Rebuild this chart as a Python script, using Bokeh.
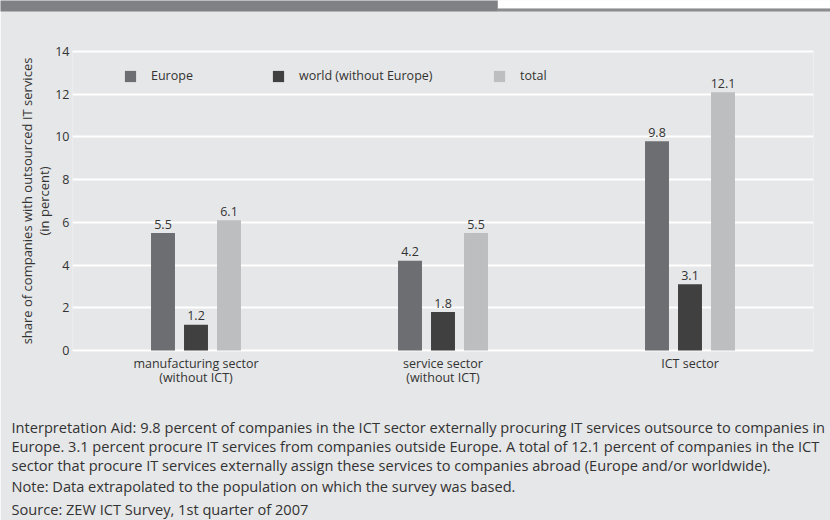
from bokeh.plotting import figure
from bokeh.models import (Range1d, FactorRange, Legend, LegendItem, ColumnDataSource,
                          FixedTicker, Label)
from bokeh.transform import dodge
from bokeh.embed import file_html
from bokeh.resources import INLINE
from bokeh.core.properties import value

# ---------------- data ----------------
sectors = ["manufacturing sector\n(without ICT)", "service sector\n(without ICT)", "ICT sector"]
series = ["Europe", "world (without Europe)", "total"]
europe = [5.5, 4.2, 9.8]
world = [1.2, 1.8, 3.1]
total = [6.1, 5.5, 12.1]
y_ticks = [0, 2, 4, 6, 8, 10, 12, 14]
y_label = "share of companies with outsourced IT services\n(in percent)"
notes = [
    "Interpretation Aid: 9.8 percent of companies in the ICT sector externally procuring IT services outsource to companies in",
    "Europe. 3.1 percent procure IT services from companies outside Europe. A total of 12.1 percent of companies in the ICT",
    "sector that procure IT services externally assign these services to companies abroad (Europe and/or worldwide).",
    "Note: Data extrapolated to the population on which the survey was based.",
    "Source: ZEW ICT Survey, 1st quarter of 2007",
]

# ---------------- style ----------------
FONT = "Open Sans"
BG = "#e6e7e8"
TXT = "#333333"
COLORS = ["#6d6e71", "#404041", "#bcbec0"]
HEADER = "#808184"

src = ColumnDataSource(dict(
    sector=sectors, europe=europe, world=world, total=total,
    europe_lbl=[f"{v:.1f}" for v in europe],
    world_lbl=[f"{v:.1f}" for v in world],
    total_lbl=[f"{v:.1f}" for v in total],
))

p = figure(x_range=FactorRange(*sectors), y_range=Range1d(-0.05, 14.05),
           width=830, height=520, output_backend="svg", toolbar_location=None,
           min_border_left=72, min_border_right=17, min_border_top=50, min_border_bottom=169)
p.background_fill_color = BG
p.border_fill_color = BG
p.outline_line_color = None
p.xgrid.visible = False
p.ygrid.grid_line_color = "white"
p.ygrid.grid_line_width = 2
p.yaxis.ticker = FixedTicker(ticks=y_ticks)

for ax in (p.xaxis[0], p.yaxis[0]):
    ax.axis_line_color = None
    ax.major_tick_line_color = None
    ax.minor_tick_line_color = None
    ax.major_tick_out = 0
    ax.major_label_text_font = FONT
    ax.major_label_text_font_size = "12.5px"
    ax.major_label_text_color = TXT
p.yaxis.major_label_standoff = 3
p.xaxis.major_label_standoff = 3
p.xaxis.major_label_text_line_height = 0.88
p.yaxis.axis_label = y_label
p.yaxis.axis_label_text_font = FONT
p.yaxis.axis_label_text_font_size = "13px"
p.yaxis.axis_label_text_font_style = "normal"
p.yaxis.axis_label_text_color = TXT
p.yaxis.axis_label_text_line_height = 0.96
p.yaxis.axis_label_standoff = -1

offsets = [-0.1336, 0.0, 0.1336]
keys = ["europe", "world", "total"]
renderers = []
for key, off, col in zip(keys, offsets, COLORS):
    r = p.vbar(x=dodge("sector", off, range=p.x_range), top=key, width=0.097,
               source=src, fill_color=col, line_color=None)
    renderers.append(r)
    p.text(x=dodge("sector", off, range=p.x_range), y=key, text=key + "_lbl", source=src,
           text_align="center", text_baseline="alphabetic", y_offset=-9,
           text_font=value(FONT), text_font_size="12.5px", text_color=TXT)

legend_x = [51, 199, 420]
for name, r, lx in zip(series, renderers, legend_x):
    lg = Legend(items=[LegendItem(label=name, renderers=[r])], location=(lx, 267),
                orientation="horizontal", padding=0, margin=0, spacing=0,
                glyph_width=14, glyph_height=14, label_standoff=14, label_height=14,
                background_fill_alpha=0, border_line_color=None,
                label_text_font=FONT, label_text_font_size="12.5px", label_text_color=TXT)
    p.add_layout(lg)

# ---------------- header strip: filled label boxes in canvas pixels ----------------
for (x0, y0, w, hgt, c) in [(497, 0, 333, 8, "white"), (497, 8, 333, 3, "#8b8c8e"), (0, 0, 497, 11, HEADER)]:
    p.add_layout(Label(x=x0, y=y0, x_units="canvas", y_units="canvas", text=" ",
                       text_align="left", text_baseline="top", text_font_size="1px",
                       text_color=c, background_fill_color=c, background_fill_alpha=1,
                       padding=dict(left=0, right=w, top=0, bottom=max(hgt - 1, 0))), "above")

# ---------------- footnotes (canvas pixels) ----------------
note_y = [426.7, 445.7, 464.2, 485.0, 508.0]
for txt, ny in zip(notes, note_y):
    p.add_layout(Label(x=11, y=ny, x_units="canvas", y_units="canvas", text=txt,
                       text_align="left", text_baseline="alphabetic",
                       text_font=FONT, text_font_size="14.6px", text_color=TXT), "below")

open("out.html", "w").write(file_html(p, INLINE))
